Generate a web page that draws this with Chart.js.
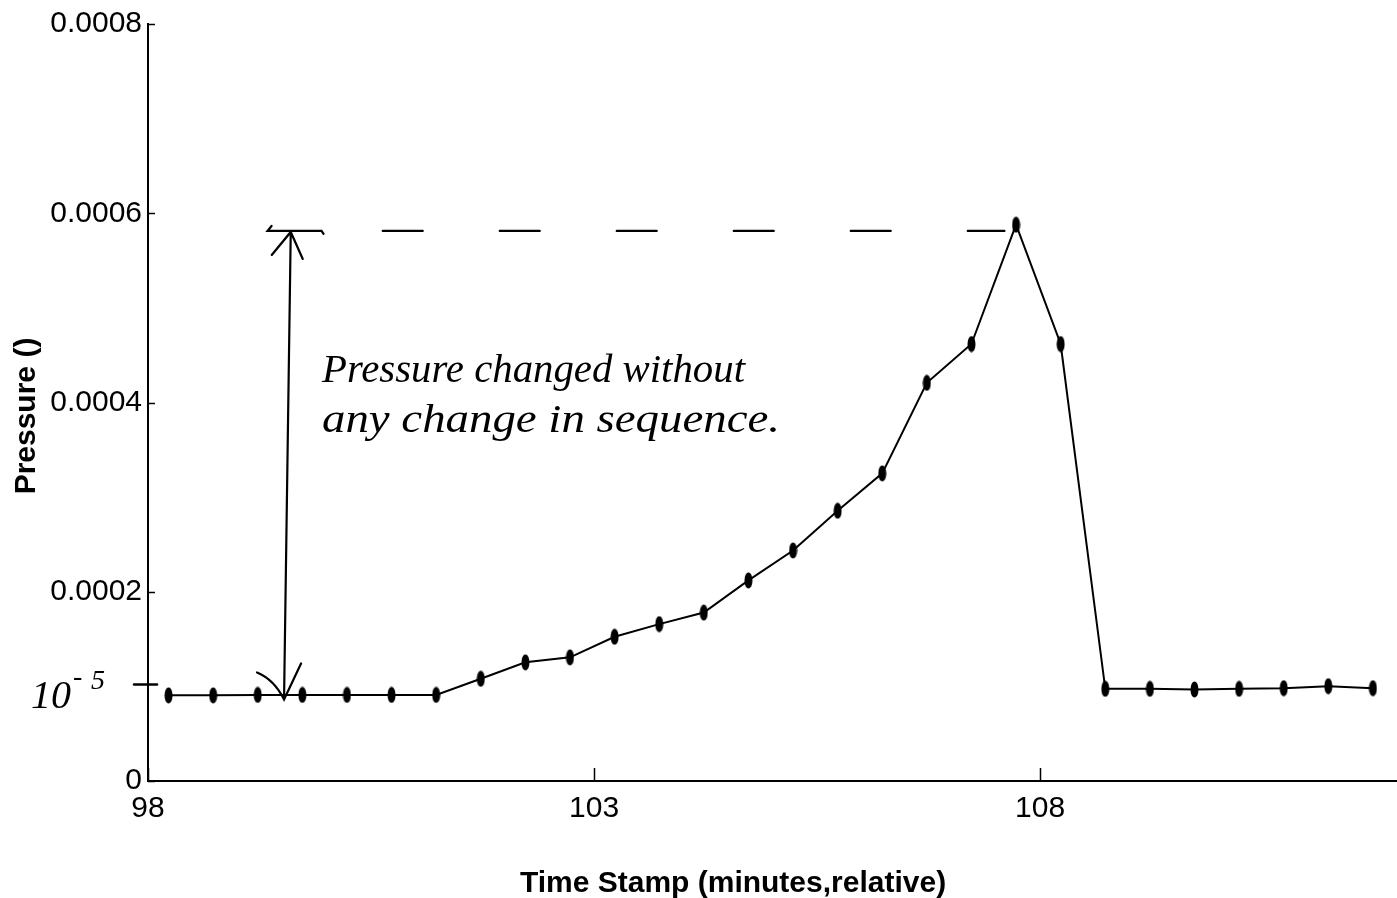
<!DOCTYPE html>
<html lang="en">
<head>
  <meta charset="utf-8">
  <title>Pressure vs Time Stamp</title>
  <script src="https://cdn.jsdelivr.net/npm/chart.js@4.4.1/dist/chart.umd.min.js"></script>
  <style>
    html, body { margin: 0; padding: 0; background: #fff; overflow: hidden; }
    .wrap { position: relative; width: 1397px; height: 898px; }
  </style>
</head>
<body>
  <div class="wrap"><canvas id="chart"></canvas></div>
  <script>
    // Sampled pressure readings, one every half minute
    const timeStamps = [
      98.23, 98.73, 99.23, 99.73, 100.23, 100.73, 101.23,
      101.73, 102.23, 102.73, 103.23, 103.73, 104.23, 104.73,
      105.23, 105.73, 106.23, 106.73, 107.23, 107.73, 108.23,
      108.73, 109.23, 109.73, 110.23, 110.73, 111.23, 111.73
    ];
    const pressure = [
      9.05e-5, 9.05e-5, 9.1e-5, 9.1e-5, 9.1e-5, 9.1e-5, 9.1e-5,
      1.08e-4, 1.254e-4, 1.307e-4, 1.524e-4, 1.658e-4, 1.78e-4, 2.12e-4,
      2.436e-4, 2.856e-4, 3.251e-4, 4.208e-4, 4.618e-4, 5.879e-4, 4.618e-4,
      9.74e-5, 9.74e-5, 9.67e-5, 9.74e-5, 9.81e-5, 1.002e-4, 9.81e-5
    ];

    const xTicks = [98, 103, 108];
    const xTickLabels = ['98', '103', '108'];
    const yTicks = [0, 0.0002, 0.0004, 0.0006, 0.0008];
    const yTickLabels = ['0', '0.0002', '0.0004', '0.0006', '0.0008'];

    // Hand-drawn notes: peak level, base level and the marked 10^-5 level
    const peakLevel = 5.813e-4;
    const baseLevel = 8.62e-5;
    const markLevel = 1.02e-4;
    const arrowTopX = 99.6;
    const arrowBottomX = 99.525;
    const dashStartX = 99.34;
    const dashEndX = 107.6;
    const noteLines = ['Pressure changed without', 'any change in sequence.'];

    const tickFont = { family: '"Liberation Sans", Arial, sans-serif', size: 30 };

    // vertical oval marker used for every reading
    const dot = document.createElement('canvas');
    dot.width = 9;
    dot.height = 17;
    const g = dot.getContext('2d');
    g.fillStyle = '#000';
    g.beginPath();
    g.ellipse(4.5, 8.5, 4, 8, 0, 0, Math.PI * 2);
    g.fill();

    function fitText(ctx, text, x, y, width) {
      const w = ctx.measureText(text).width;
      ctx.save();
      ctx.translate(x, y);
      ctx.scale(width / w, 1);
      ctx.fillText(text, 0, 0);
      ctx.restore();
    }

    const extras = {
      id: 'extras',
      afterDraw(chart) {
        const { ctx, scales: { x, y } } = chart;
        const area = chart.chartArea;
        ctx.save();
        ctx.strokeStyle = '#000';
        ctx.fillStyle = '#000';

        // inward tick marks
        ctx.lineWidth = 1.5;
        ctx.beginPath();
        yTicks.forEach(v => {
          const py = Math.round(y.getPixelForValue(v)) + 0.5;
          ctx.moveTo(area.left, py);
          ctx.lineTo(area.left + 7, py);
        });
        xTicks.forEach(v => {
          const px = Math.round(x.getPixelForValue(v)) + 0.5;
          ctx.moveTo(px, area.bottom);
          ctx.lineTo(px, area.bottom - 13);
        });
        ctx.stroke();

        // axis titles
        ctx.font = 'bold 30px "Liberation Sans", Arial, sans-serif';
        ctx.textAlign = 'center';
        ctx.textBaseline = 'middle';
        ctx.fillText('Time Stamp (minutes,relative)', 733, 884);
        ctx.save();
        ctx.translate(27, 416);
        ctx.rotate(-Math.PI / 2);
        ctx.fillText('Pressure ()', 0, 0);
        ctx.restore();

        // dashed peak level
        const yPeak = y.getPixelForValue(peakLevel);
        const xa = x.getPixelForValue(arrowTopX);
        const ya = yPeak;
        ctx.lineWidth = 2.2;
        ctx.lineCap = 'round';
        ctx.setLineDash([40, 77]);
        ctx.beginPath();
        ctx.moveTo(xa + 92, yPeak);
        ctx.lineTo(x.getPixelForValue(dashEndX), yPeak);
        ctx.stroke();
        ctx.setLineDash([]);

        // cap bar and double arrow
        const xd = x.getPixelForValue(dashStartX);
        const xb = x.getPixelForValue(arrowBottomX);
        const yb = y.getPixelForValue(baseLevel);
        ctx.beginPath();
        ctx.moveTo(xd + 4, yPeak - 5);
        ctx.lineTo(xd, yPeak);
        ctx.lineTo(xd + 54, yPeak);
        ctx.lineTo(xd + 56, yPeak + 3);
        ctx.moveTo(xa, ya + 1);
        ctx.lineTo(xb, yb);
        ctx.moveTo(xa - 19, ya + 24);
        ctx.lineTo(xa, ya + 1);
        ctx.lineTo(xa + 12, ya + 28);
        ctx.moveTo(xb - 27, yb - 27);
        ctx.quadraticCurveTo(xb - 10, yb - 20, xb, yb);
        ctx.lineTo(xb + 17, yb - 36);
        ctx.stroke();

        // 10^-5 mark on the axis
        const ym = y.getPixelForValue(markLevel);
        ctx.lineWidth = 2.5;
        ctx.beginPath();
        ctx.moveTo(area.left - 14, ym);
        ctx.lineTo(area.left + 9, ym);
        ctx.stroke();

        ctx.textAlign = 'left';
        ctx.textBaseline = 'alphabetic';
        ctx.font = 'italic 40px "Liberation Serif", serif';
        ctx.fillText('10', 31, ym + 24);
        ctx.font = 'italic 28px "Liberation Serif", serif';
        ctx.fillText('-', 73, ym + 1);
        ctx.fillText('5', 91, ym + 5);

        // handwritten note
        ctx.font = 'italic 40px "Liberation Serif", serif';
        const nx = x.getPixelForValue(99.95);
        fitText(ctx, noteLines[0], nx, y.getPixelForValue(4.215e-4), 423);
        fitText(ctx, noteLines[1], nx, y.getPixelForValue(3.69e-4), 458);
        ctx.restore();
      }
    };

    new Chart(document.getElementById('chart'), {
      type: 'line',
      data: {
        datasets: [{
          label: 'Pressure',
          data: timeStamps.map((t, i) => ({ x: t, y: pressure[i] })),
          borderColor: '#000',
          borderWidth: 2,
          tension: 0,
          pointStyle: dot,
          pointRadius: 8,
          pointHoverRadius: 8
        }]
      },
      options: {
        responsive: true,
        maintainAspectRatio: false,
        animation: false,
        events: [],
        layout: { autoPadding: false, padding: { top: 18, right: 0, bottom: 0, left: 0 } },
        plugins: { legend: { display: false }, tooltip: { enabled: false } },
        scales: {
          x: {
            type: 'linear',
            min: 98,
            max: 112,
            afterBuildTicks: s => { s.ticks = xTicks.map(v => ({ value: v })); },
            afterFit: s => { s.height = 117; },
            grid: { drawOnChartArea: false, drawTicks: false },
            border: { color: '#000', width: 2 },
            ticks: {
              color: '#000',
              font: tickFont,
              padding: 10,
              maxRotation: 0,
              callback: v => xTickLabels[xTicks.indexOf(v)]
            }
          },
          y: {
            min: 0,
            max: 0.0008,
            afterBuildTicks: s => { s.ticks = yTicks.map(v => ({ value: v })); },
            afterFit: s => { s.width = 148; },
            grid: { drawOnChartArea: false, drawTicks: false },
            border: { color: '#000', width: 2 },
            ticks: {
              color: '#000',
              font: tickFont,
              padding: 6,
              callback: v => yTickLabels[yTicks.indexOf(v)]
            }
          }
        }
      },
      plugins: [extras]
    });
  </script>
</body>
</html>
